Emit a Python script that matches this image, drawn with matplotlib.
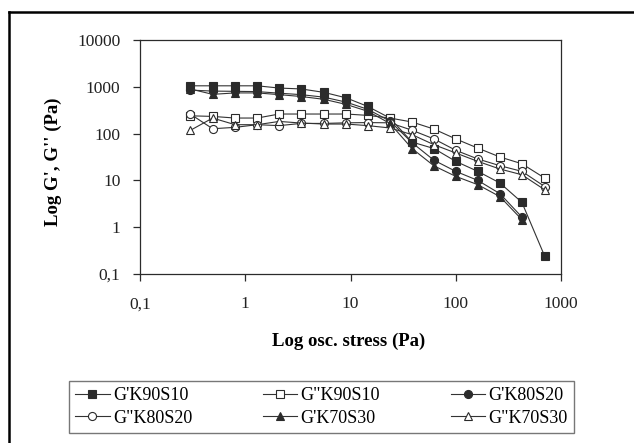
"""
Oscillatory stress sweep: storage (G') and loss (G'') moduli of three
K/S blends, log-log axes, comma decimal tick labels.
"""

import matplotlib
matplotlib.use("Agg")
import matplotlib.pyplot as plt
from matplotlib.lines import Line2D

# osc. stress (Pa), shared by all series
stress = [0.3, 0.49, 0.8, 1.3, 2.1, 3.4, 5.6, 9.1, 14.6, 23.7, 38.4, 62, 100, 162, 263, 425, 700]

g1_k90s10 = [1050, 1050, 1050, 1050, 940, 900, 760, 580, 380, 215, 66, 48, 25.5, 15.6, 8.8, 3.4, 0.24]
g2_k90s10 = [240, 233, 215, 215, 262, 262, 262, 262, 245, 215, 177, 125, 77, 49, 31.6, 22.7, 11.2]
g1_k80s20 = [850, 810, 800, 790, 730, 680, 600, 470, 330, 185, 64, 27, 15.6, 10, 5.2, 1.65]
g2_k80s20 = [262, 127, 136, 155, 148, 165, 165, 170, 172, 170, 118, 77, 44, 28.7, 20.6, 15.6, 7.4]
g1_k70s30 = [900, 690, 740, 740, 680, 620, 540, 420, 300, 165, 48, 20.5, 12.2, 8.1, 4.5, 1.45]
g2_k70s30 = [117, 215, 155, 155, 182, 168, 160, 160, 148, 132, 95, 58, 38.5, 25.5, 17.5, 13.2, 6.3]

x_ticks = [0.1, 1, 10, 100, 1000]
x_labels = ["0,1", "1", "10", "100", "1000"]
y_ticks = [0.1, 1, 10, 100, 1000, 10000]
y_labels = ["0,1", "1", "10", "100", "1000", "10000"]

plt.rcParams["font.family"] = ["Liberation Serif", "DejaVu Serif"]

W, H = 634, 443
fig = plt.figure(figsize=(W / 100, H / 100), dpi=100)
ax = fig.add_axes([140 / W, 1 - 274 / H, 421 / W, 234 / H])

DARK = "#2b2b2b"
series = [
    ("G'K90S10", g1_k90s10, "s", DARK),
    ("G\"K90S10", g2_k90s10, "s", "white"),
    ("G'K80S20", g1_k80s20, "o", DARK),
    ("G\"K80S20", g2_k80s20, "o", "white"),
    ("G'K70S30", g1_k70s30, "^", DARK),
    ("G\"K70S30", g2_k70s30, "^", "white"),
]

handles = {}
for label, vals, marker, face in series:
    (h,) = ax.plot(stress[:len(vals)], vals, color="#333333", lw=0.8,
                   marker=marker, ms=5.8, mfc=face, mec=DARK, mew=0.8, label=label)
    handles[label] = h

ax.set_xscale("log")
ax.set_yscale("log")
ax.set_xlim(0.1, 1000)
ax.set_ylim(0.1, 10000)
ax.set_xticks(x_ticks, x_labels)
ax.set_yticks(y_ticks, y_labels)
ax.minorticks_off()
ax.tick_params(direction="out", length=5, width=0.9, color=DARK,
               labelsize=12.5, labelcolor="#222222")
ax.tick_params(axis="x", pad=11)
ax.tick_params(axis="y", pad=9)
for sp in ax.spines.values():
    sp.set_linewidth(0.9)
    sp.set_color(DARK)

ax.set_xlabel("Log osc. stress (Pa)", fontsize=13.5, fontweight="bold")
ax.set_ylabel("Log G', G'' (Pa)", fontsize=13.5, fontweight="bold")
ax.xaxis.set_label_coords(0.495, -0.25)
ax.yaxis.set_label_coords(-0.185, 0.48)

# legend fills column-major, so reorder to get the row layout of the original
order = ["G'K90S10", "G\"K80S20", "G\"K90S10", "G'K70S30", "G'K80S20", "G\"K70S30"]
leg = fig.legend([handles[k] for k in order], order, ncol=3,
                 loc="lower left", mode="expand",
                 bbox_to_anchor=(69 / W, 1 - 433 / H, 505 / W, 60 / H),
                 fontsize=13, frameon=True, fancybox=False, edgecolor="#555555",
                 handlelength=1.9, handletextpad=0.2, labelspacing=0.3,
                 borderpad=0.35, columnspacing=1.0, borderaxespad=0)
leg.get_frame().set_linewidth(1.0)

# outer frame, cut off at the right and bottom edge like the source
fig.add_artist(Line2D([9 / W, 1.0], [1 - 12 / H, 1 - 12 / H], transform=fig.transFigure,
                      color="black", lw=1.8))
fig.add_artist(Line2D([9 / W, 9 / W], [1 - 12 / H, 0.0], transform=fig.transFigure,
                      color="black", lw=1.8))

fig.savefig("out.png", dpi=100)
